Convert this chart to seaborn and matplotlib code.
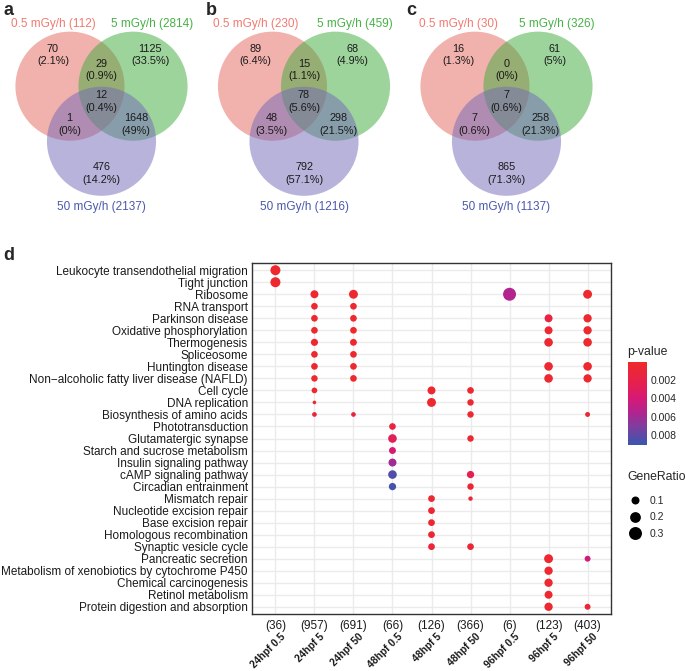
"""Venn overlaps of DEGs (a-c) and KEGG enrichment dot plot (d)."""

import matplotlib

matplotlib.use("Agg")
import matplotlib.colors as mcolors
import matplotlib.pyplot as plt
import matplotlib.transforms as mtransforms
import pandas as pd
import seaborn as sns
from matplotlib.cm import ScalarMappable
from matplotlib.lines import Line2D
from matplotlib.patches import Circle

# ---------------------------------------------------------------- venn data
set_names = ["0.5 mGy/h", "5 mGy/h", "50 mGy/h"]
panel_letters = ["a", "b", "c"]
totals_a = [112, 2814, 2137]
totals_b = [230, 459, 1216]
totals_c = [30, 326, 1137]
# region order: 0.5 only, 5 only, 0.5&5, all three, 0.5&50, 5&50, 50 only
counts_a = [70, 1125, 29, 12, 1, 1648, 476]
counts_b = [89, 68, 15, 78, 48, 298, 792]
counts_c = [16, 61, 0, 7, 7, 258, 865]
pcts_a = ["2.1%", "33.5%", "0.9%", "0.4%", "0%", "49%", "14.2%"]
pcts_b = ["6.4%", "4.9%", "1.1%", "5.6%", "3.5%", "21.5%", "57.1%"]
pcts_c = ["1.3%", "5%", "0%", "0.6%", "0.6%", "21.3%", "71.3%"]

# ---------------------------------------------------------------- dot plot data
terms = [
    "Leukocyte transendothelial migration",
    "Tight junction",
    "Ribosome",
    "RNA transport",
    "Parkinson disease",
    "Oxidative phosphorylation",
    "Thermogenesis",
    "Spliceosome",
    "Huntington disease",
    "Non\u2212alcoholic fatty liver disease (NAFLD)",
    "Cell cycle",
    "DNA replication",
    "Biosynthesis of amino acids",
    "Phototransduction",
    "Glutamatergic synapse",
    "Starch and sucrose metabolism",
    "Insulin signaling pathway",
    "cAMP signaling pathway",
    "Circadian entrainment",
    "Mismatch repair",
    "Nucleotide excision repair",
    "Base excision repair",
    "Homologous recombination",
    "Synaptic vesicle cycle",
    "Pancreatic secretion",
    "Metabolism of xenobiotics by cytochrome P450",
    "Chemical carcinogenesis",
    "Retinol metabolism",
    "Protein digestion and absorption",
]
groups = ["24hpf 0.5", "24hpf 5", "24hpf 50", "48hpf 0.5", "48hpf 5",
          "48hpf 50", "96hpf 0.5", "96hpf 5", "96hpf 50"]
group_counts = [36, 957, 691, 66, 126, 366, 6, 123, 403]

# (term index, GeneRatio, p-value)
hits_24_05 = [(0, 0.17, 0.0003), (1, 0.17, 0.0003)]
hits_24_5 = [(2, 0.10, 0.0003), (3, 0.063, 0.0003), (4, 0.063, 0.0003),
             (5, 0.063, 0.0003), (6, 0.075, 0.0003), (7, 0.063, 0.0003),
             (8, 0.063, 0.0003), (9, 0.058, 0.0003), (10, 0.04, 0.0004),
             (11, 0.003, 0.0005), (12, 0.02, 0.0010)]
hits_24_50 = [(2, 0.13, 0.0003), (3, 0.063, 0.0003), (4, 0.063, 0.0003),
              (5, 0.063, 0.0003), (6, 0.068, 0.0003), (7, 0.063, 0.0003),
              (8, 0.063, 0.0003), (9, 0.063, 0.0003), (12, 0.02, 0.0012)]
hits_48_05 = [(13, 0.063, 0.0015), (14, 0.12, 0.0027), (15, 0.07, 0.0038),
              (16, 0.10, 0.0060), (17, 0.12, 0.0084), (18, 0.08, 0.0088)]
hits_48_5 = [(10, 0.10, 0.0003), (11, 0.13, 0.0003), (19, 0.065, 0.0005),
             (20, 0.065, 0.0006), (21, 0.065, 0.0006), (22, 0.065, 0.0006),
             (23, 0.065, 0.0010)]
hits_48_50 = [(10, 0.063, 0.0004), (11, 0.058, 0.0004), (12, 0.058, 0.0004),
              (14, 0.058, 0.0005), (17, 0.08, 0.0024), (18, 0.058, 0.0006),
              (19, 0.015, 0.0006), (23, 0.063, 0.0006)]
hits_96_05 = [(2, 0.355, 0.0055)]
hits_96_5 = [(4, 0.10, 0.0016), (5, 0.10, 0.0004), (6, 0.12, 0.0004),
             (8, 0.12, 0.0004), (9, 0.12, 0.0004), (24, 0.13, 0.0004),
             (25, 0.11, 0.0004), (26, 0.11, 0.0004), (27, 0.10, 0.0004),
             (28, 0.11, 0.0004)]
hits_96_50 = [(2, 0.13, 0.0003), (4, 0.11, 0.0003), (5, 0.11, 0.0003),
              (6, 0.12, 0.0003), (8, 0.12, 0.0003), (9, 0.11, 0.0003),
              (12, 0.025, 0.0008), (24, 0.045, 0.0042), (28, 0.045, 0.0006)]
size_legend = [0.1, 0.2, 0.3]
pval_ticks = [0.002, 0.004, 0.006, 0.008]

W, H = 685, 671
FONT = ["Liberation Sans", "DejaVu Sans"]


def px_rect(x0, y0, x1, y1):
    """Pixel box (top-left origin) to figure fraction rect."""
    return [x0 / W, 1 - y1 / H, (x1 - x0) / W, (y1 - y0) / H]


def draw_venn(ax, totals, counts, pcts):
    fills = ["#E5655A", "#3DAB3B", "#7369B9"]
    label_cols = ["#F07A70", "#45B245", "#4A58AE"]
    centers = [(-0.578, 0.0), (0.578, 0.0), (0.0, -1.01)]
    for c, col in zip(centers, fills):
        ax.add_patch(Circle(c, 1.0, facecolor=col, edgecolor="none", alpha=0.5))
    spots = [(-0.89, 0.57), (0.89, 0.57), (0.0, 0.30), (0.0, -0.28),
             (-0.59, -0.70), (0.63, -0.70), (0.0, -1.60)]
    for (x, y), n, p in zip(spots, counts, pcts):
        ax.text(x, y, f"{n}\n({p})", ha="center", va="center",
                fontsize=7.8, linespacing=1.3, color="#1a1a1a")
    label_pos = [(-0.88, 1.14), (0.93, 1.14), (0.0, -2.22)]
    for (x, y), name, tot, col in zip(label_pos, set_names, totals, label_cols):
        ax.text(x, y, f"{name} ({tot})", ha="center", va="center",
                fontsize=8.5, color=col)
    ax.set_xlim(-1.86, 1.86)
    ax.set_ylim(-2.6, 1.58)
    ax.set_aspect("equal")
    ax.axis("off")


def main() -> None:
    sns.set_style("white")
    plt.rcParams["font.family"] = FONT

    fig = plt.figure(figsize=(W / 100, H / 100), dpi=100)

    # ---- venn panels
    venn_sets = [(totals_a, counts_a, pcts_a), (totals_b, counts_b, pcts_b),
                 (totals_c, counts_c, pcts_c)]
    for k, (tot, cnt, pct) in enumerate(venn_sets):
        cx = 101.5 + 202.5 * k
        vax = fig.add_axes(px_rect(cx - 101.5, 0, cx + 101.5, 228))
        draw_venn(vax, tot, cnt, pct)
    for letter, x in zip(panel_letters, [3, 206, 406]):
        fig.text(x / W, 1 - 2 / H, letter, fontsize=13, fontweight="bold",
                 ha="left", va="top")
    fig.text(3 / W, 1 - 264 / H, "d", fontsize=13, fontweight="bold",
             ha="left", va="bottom")

    # ---- dot plot
    hit_lists = [hits_24_05, hits_24_5, hits_24_50, hits_48_05, hits_48_5,
                 hits_48_50, hits_96_05, hits_96_5, hits_96_50]
    rows = []
    for gi, hits in enumerate(hit_lists):
        for ti, ratio, p in hits:
            rows.append({"group": gi, "term": ti, "GeneRatio": ratio, "p": p})
    df = pd.DataFrame(rows)

    cmap = mcolors.LinearSegmentedColormap.from_list(
        "pval",
        [(0.0, "#EE2A2A"), (0.25, "#E6204E"), (0.45, "#D41A78"),
         (0.62, "#AE2590"), (0.78, "#7E3E9E"), (1.0, "#3A56AE")],
    )
    norm = mcolors.Normalize(vmin=0.0, vmax=0.0091)

    ax = fig.add_axes(px_rect(252, 263, 611, 614))
    sns.scatterplot(
        data=df, x="group", y="term", hue="p", size="GeneRatio",
        palette=cmap, hue_norm=norm, sizes=(6, 87), size_norm=(0, 0.3),
        linewidth=0, legend=False, ax=ax, zorder=3,
    )
    ax.set_xlim(-0.6, len(groups) - 0.4)
    ax.set_ylim(len(terms) - 0.4, -0.6)
    ax.set_xticks(range(len(groups)))
    ax.set_xticklabels([f"({n})" for n in group_counts], fontsize=8.5,
                       color="#1a1a1a")
    ax.set_yticks(range(len(terms)))
    ax.set_yticklabels(terms, fontsize=8.5, color="#1a1a1a")
    ax.set_xlabel("")
    ax.set_ylabel("")
    ax.grid(True, color="#EBEBEB", linewidth=1.0)
    ax.set_axisbelow(True)
    ax.tick_params(axis="both", length=3, width=0.8, color="#333333", pad=1.5)
    ax.tick_params(axis="y", length=2.5, pad=0.5)
    for spine in ax.spines.values():
        spine.set_color("#333333")
        spine.set_linewidth(1.0)

    trans = mtransforms.blended_transform_factory(ax.transData, ax.transAxes)
    for i, g in enumerate(groups):
        ax.text(i + 0.12, -0.05, g, transform=trans, rotation=45,
                rotation_mode="anchor", ha="right", va="top",
                fontsize=7.4, fontweight="bold", color="#1a1a1a")

    # ---- p-value colour bar
    cax = fig.add_axes(px_rect(628, 362, 647, 445))
    cb = fig.colorbar(ScalarMappable(norm=norm, cmap=cmap), cax=cax)
    cb.outline.set_visible(False)
    cb.set_ticks(pval_ticks)
    cb.set_ticklabels([f"{t:.3f}" for t in pval_ticks])
    cax.invert_yaxis()
    cax.tick_params(direction="in", length=3.5, width=0.8, color="white",
                    left=True, right=True, labelsize=7.5, pad=2.5)
    fig.text(627 / W, 1 - 352 / H, "p-value", fontsize=8.8, ha="left",
             va="center")

    # ---- GeneRatio size legend
    fig.text(627 / W, 1 - 477 / H, "GeneRatio", fontsize=8.8, ha="left",
             va="center")
    handles = [
        Line2D([], [], marker="o", linestyle="", color="black",
               markeredgewidth=0, markersize=(6 + 270 * v) ** 0.5)
        for v in size_legend
    ]
    fig.legend(
        handles, [str(v) for v in size_legend],
        loc="upper left", bbox_to_anchor=(630 / W, 1 - 496 / H),
        frameon=False, fontsize=7.5, handletextpad=0.9, labelspacing=0.62,
        borderpad=0, borderaxespad=0, handlelength=1.0,
    )

    fig.savefig("out.png", dpi=100)


if __name__ == "__main__":
    main()
